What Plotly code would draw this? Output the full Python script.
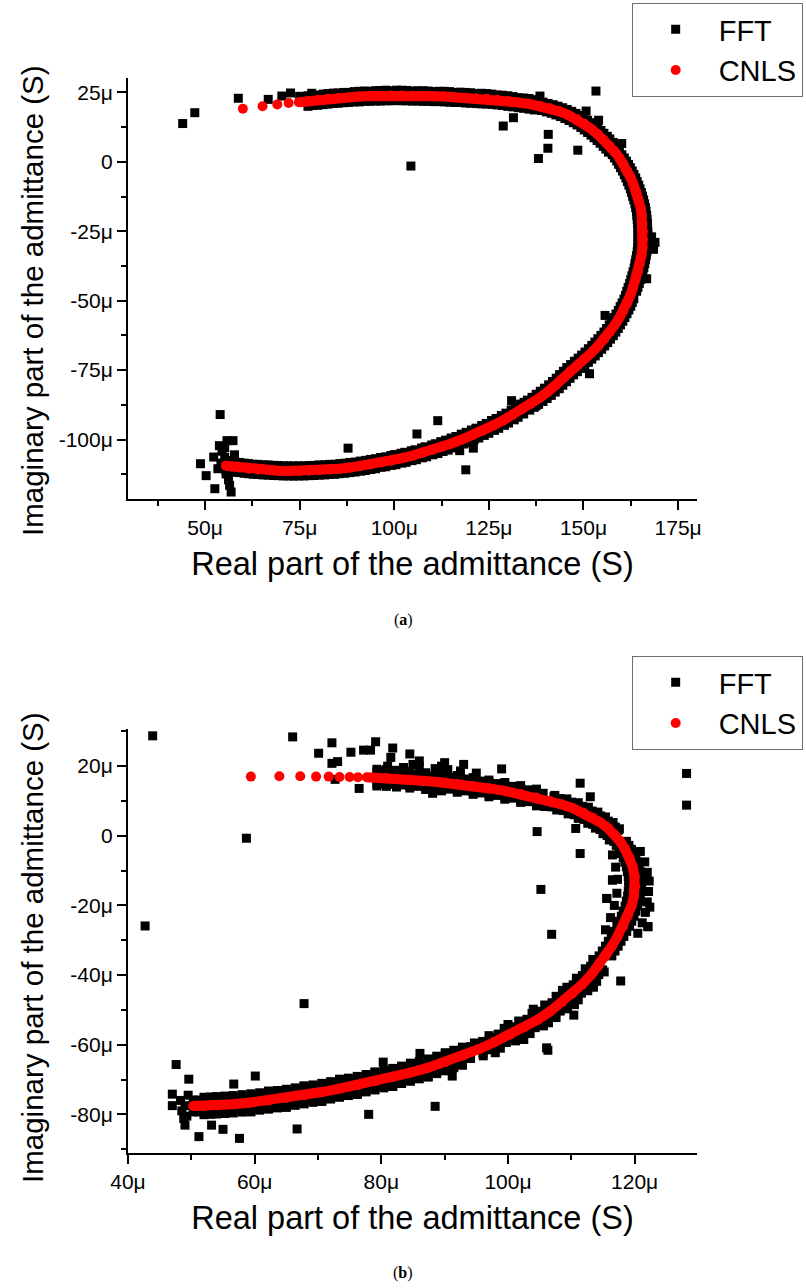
import plotly.graph_objects as go

# ---------------- Panel (a) data (values in micro-siemens) ----------------
cnls_a = [
    (60.0, 19.1), (65.2, 20.0), (69.1, 20.7), (72.1, 21.2), (74.8, 21.5),
    (77.2, 21.9), (79.8, 22.3), (82.5, 22.7), (85.2, 23.0), (88.0, 23.3), (90.8, 23.5),
    (93.6, 23.7), (96.4, 23.8), (99.2, 23.9), (102.0, 23.9), (104.8, 23.8), (107.6, 23.7),
    (110.4, 23.6), (113.2, 23.5), (116.0, 23.3), (118.8, 23.1), (121.6, 22.9), (124.4, 22.7),
    (127.2, 22.4), (130.0, 21.9), (132.8, 21.4), (135.6, 20.9), (138.4, 20.2), (141.1, 19.3),
    (143.6, 18.2), (146.0, 16.9), (148.2, 15.4), (150.2, 13.7), (152.0, 11.9), (153.7, 10.0),
    (155.3, 8.0), (156.8, 5.9), (158.2, 3.7), (159.5, 1.4), (160.6, -0.9), (161.6, -3.3),
    (162.5, -5.8), (163.3, -8.4), (164.0, -11.0), (164.6, -13.7), (165.1, -16.5), (165.4, -19.3),
    (165.6, -22.2), (165.7, -25.1), (165.7, -28.0), (165.6, -30.9), (165.3, -33.8), (164.9, -36.7),
    (164.4, -39.6), (163.8, -42.4), (163.1, -45.2), (162.4, -48.0), (161.6, -50.7), (160.6, -53.4),
    (159.5, -56.1), (158.3, -58.7), (157.0, -61.3), (155.5, -63.8), (153.9, -66.2), (152.2, -68.6),
    (150.4, -70.9), (148.5, -73.1), (146.5, -75.4), (144.6, -77.9), (142.7, -80.4), (140.6, -82.8),
    (138.4, -85.0), (136.1, -87.1), (133.7, -89.1), (131.2, -91.2), (128.6, -93.2), (126.0, -95.0),
    (123.4, -96.8), (120.7, -98.4), (118.0, -99.9), (115.3, -101.3), (112.6, -102.6), (109.9, -103.8),
    (107.2, -104.9), (104.5, -105.9), (101.8, -106.8), (99.1, -107.6), (96.4, -108.3), (93.7, -109.0),
    (91.0, -109.6), (88.3, -110.1), (85.6, -110.5), (82.9, -110.8), (80.2, -111.0), (77.5, -111.2),
    (74.8, -111.3), (72.1, -111.3), (69.4, -111.2), (66.7, -111.0), (64.0, -110.8), (61.5, -110.5),
    (59.2, -110.1), (57.2, -109.8), (55.5, -109.4),
]
cnls_a_sparse = 5  # first low-frequency points are well separated

fft_a = [
    # along the arc, outer side
    (77.2, 23.8), (79.8, 24.0), (82.5, 24.6), (85.2, 24.8), (88.0, 25.0), (90.8, 25.4), (93.6, 25.4),
    (96.4, 25.7), (99.2, 25.6), (102.0, 25.8), (104.8, 25.5), (107.6, 25.6), (110.4, 25.3), (113.2, 25.4),
    (116.0, 25.0), (118.8, 25.0), (121.6, 24.6), (124.4, 24.6), (127.2, 24.1), (130.0, 23.8), (132.8, 23.1),
    (135.6, 22.8), (139.3, 21.5), (142.0, 20.6), (144.5, 19.5), (146.9, 18.2), (149.1, 16.7), (151.1, 15.0),
    (152.9, 13.2), (154.6, 11.3), (156.3, 9.2), (157.8, 7.0), (159.5, 3.7), (160.8, 1.4), (161.9, -0.9),
    (162.9, -3.3), (163.8, -5.8), (164.6, -8.4), (165.3, -11.0), (165.9, -13.7), (166.4, -16.5),
    (166.7, -19.3), (166.9, -22.2), (167.0, -25.1), (167.0, -28.0), (166.9, -30.9), (166.6, -33.8),
    (166.2, -36.7), (165.7, -39.6), (165.1, -42.4), (164.4, -45.2), (163.3, -49.3), (162.5, -52.0),
    (161.5, -54.7), (160.4, -57.4), (159.2, -60.0), (157.9, -62.6), (156.4, -65.1), (154.8, -67.5),
    (153.1, -69.9), (151.3, -72.2), (149.4, -74.4), (147.4, -76.7), (145.5, -79.2), (143.6, -81.7),
    (141.5, -84.1), (139.3, -86.3), (137.0, -88.4), (134.2, -90.8), (131.7, -92.9), (129.1, -94.9),
    (126.5, -96.7), (123.8, -98.5), (121.1, -100.1), (118.4, -101.6), (115.6, -103.0), (112.9, -104.3),
    (110.2, -105.5), (107.4, -106.6), (104.7, -107.6), (102.0, -108.5), (99.3, -109.3), (96.5, -110.0),
    (93.8, -110.8), (91.1, -111.4), (88.3, -111.9), (85.6, -112.3), (82.9, -112.6), (80.2, -112.8),
    (77.5, -113.0), (74.8, -113.1), (72.1, -113.1), (69.4, -113.0), (66.7, -112.8), (64.0, -112.6),
    (61.5, -112.3), (59.2, -111.9), (57.2, -111.6), (55.5, -111.2),
    (78.5, 24.0), (81.2, 24.4), (83.9, 24.7), (86.6, 25.0), (89.4, 25.3), (92.2, 25.5), (95.0, 25.6),
    (97.8, 25.8), (100.6, 25.8), (103.4, 25.7), (106.2, 25.6), (109.0, 25.5), (111.8, 25.4), (114.6, 25.3),
    (117.4, 25.1), (120.2, 24.9), (123.0, 24.7), (125.8, 24.4), (128.6, 24.0), (131.4, 23.5), (134.2, 23.0),
    (137.2, 22.4), (140.65, 21.05), (143.25, 20.05), (145.7, 18.85), (148.0, 17.45), (150.1, 15.85),
    (152.0, 14.1), (153.75, 12.25), (155.4, 10.3), (156.95, 8.25), (158.6, 5.6),
    (160.15, 2.55), (161.35, 0.25), (162.4, -2.1), (163.35, -4.55), (164.2, -7.1), (164.95, -9.7),
    (165.6, -12.35), (166.15, -15.1), (166.55, -17.9), (166.8, -20.75), (166.95, -23.65), (167.0, -26.55),
    (166.95, -29.45), (166.75, -32.35), (166.4, -35.25), (165.95, -38.15), (165.4, -41.0), (164.75, -43.8),
    (164.05, -46.6), (162.9, -50.65), (162.0, -53.35), (160.95, -56.05), (159.8, -58.7), (158.55, -61.3),
    (157.15, -63.85), (155.6, -66.3), (153.95, -68.7), (152.2, -71.05), (150.35, -73.3), (148.4, -75.55),
    (146.45, -77.95), (144.55, -80.45), (142.55, -82.9), (140.4, -85.2), (138.15, -87.35), (135.8, -89.4),
    (132.75, -92.0), (130.2, -94.05), (127.6, -95.95), (125.0, -97.75), (122.35, -99.45), (119.65, -101.0),
    (116.95, -102.45), (114.25, -103.8), (111.55, -105.05), (108.55, -106.2), (105.85, -107.25),
    (103.15, -108.2), (100.45, -109.05), (97.75, -109.8), (95.05, -110.5), (92.35, -111.15),
    (89.65, -111.7), (86.95, -112.15), (84.25, -112.5), (81.55, -112.75), (78.85, -112.95),
    (76.15, -113.1), (73.45, -113.15), (70.75, -113.1), (68.05, -112.95), (65.35, -112.75),
    (62.75, -112.5), (60.35, -112.15), (58.2, -111.8), (56.35, -111.45),
    # along the arc, inner side
    (78.5, 20.3), (81.2, 20.6), (83.9, 21.0), (86.6, 21.3), (89.4, 21.6), (92.2, 21.8), (95.0, 21.9),
    (97.8, 22.0), (100.6, 22.1), (103.4, 22.0), (106.2, 21.9), (109.0, 21.8), (111.8, 21.7), (114.6, 21.5),
    (117.4, 21.4), (120.2, 21.1), (123.0, 20.9), (125.8, 20.7), (128.6, 20.3), (131.4, 19.8), (134.2, 19.3),
    (137.0, 18.7), (138.9, 18.5), (141.5, 17.5), (143.9, 16.3), (146.2, 14.9), (148.3, 13.3), (150.2, 11.5),
    (152.0, 9.6), (153.6, 7.7), (155.2, 5.6), (156.6, 3.5), (157.6, 2.6), (158.8, 0.3), (159.8, -2.1),
    (160.8, -4.6), (161.6, -7.1), (162.4, -9.7), (163.0, -12.4), (163.6, -15.1), (164.0, -17.9),
    (164.2, -20.8), (164.4, -23.7), (164.4, -26.6), (164.4, -29.5), (164.2, -32.4), (163.8, -35.3),
    (163.4, -38.2), (162.8, -41.0), (162.2, -43.8), (161.5, -46.6), (161.1, -48.1), (160.2, -50.8),
    (159.2, -53.5), (158.0, -56.1), (156.8, -58.7), (155.4, -61.3), (153.8, -63.7), (152.2, -66.1),
    (150.4, -68.5), (148.6, -70.7), (146.6, -73.0), (144.7, -75.4), (142.8, -77.9), (140.8, -80.3),
    (138.6, -82.6), (136.4, -84.8), (134.3, -86.6), (132.0, -88.4), (129.5, -90.5), (126.9, -92.4),
    (124.3, -94.2), (121.6, -95.9), (119.0, -97.4), (116.3, -98.9), (113.6, -100.2), (110.9, -101.5),
    (108.2, -102.6), (105.5, -103.7), (102.8, -104.6), (100.1, -105.4), (97.8, -106.2), (95.1, -106.9),
    (92.4, -107.5), (89.7, -108.1), (87.0, -108.5), (84.3, -108.9), (81.6, -109.1), (78.9, -109.3),
    (76.2, -109.5), (73.5, -109.5), (70.8, -109.5), (68.1, -109.3), (65.4, -109.1), (62.8, -108.9),
    (60.4, -108.5), (58.2, -108.2), (56.4, -107.8),
    (77.2, 20.0), (79.8, 20.4), (82.5, 20.8), (85.2, 21.1), (88.0, 21.4), (90.8, 21.6), (93.6, 21.8),
    (96.4, 21.9), (99.2, 22.0), (102.0, 22.0), (104.8, 21.9), (107.6, 21.8), (110.4, 21.7), (113.2, 21.6),
    (116.0, 21.4), (118.8, 21.2), (121.6, 21.0), (124.4, 20.8), (127.2, 20.5), (130.0, 20.0), (132.8, 19.5),
    (135.6, 19.0), (137.5, 18.9), (140.2, 18.0), (142.7, 16.9), (145.1, 15.6), (147.3, 14.1), (149.3, 12.4),
    (151.1, 10.6), (152.8, 8.7), (154.4, 6.7), (155.9, 4.6),
    (156.9, 3.7), (158.2, 1.4), (159.3, -0.9), (160.3, -3.3), (161.2, -5.8), (162.0, -8.4), (162.7, -11.0),
    (163.3, -13.7), (163.8, -16.5), (164.1, -19.3), (164.3, -22.2), (164.4, -25.1), (164.4, -28.0),
    (164.3, -30.9), (164.0, -33.8), (163.6, -36.7), (163.1, -39.6), (162.5, -42.4), (161.8, -45.2),
    (161.5, -46.7), (160.7, -49.4), (159.7, -52.1), (158.6, -54.8), (157.4, -57.4), (156.1, -60.0),
    (154.6, -62.5), (153.0, -64.9), (151.3, -67.3), (149.5, -69.6), (147.6, -71.8), (145.6, -74.1),
    (143.7, -76.6), (141.8, -79.1), (139.7, -81.5), (137.5, -83.7), (135.2, -85.8),
    (133.4, -87.25), (130.9, -89.35), (128.3, -91.35), (125.7, -93.15), (123.1, -94.95), (120.4, -96.55),
    (117.7, -98.05), (115.0, -99.45), (112.3, -100.75), (109.9, -101.95), (107.2, -103.05),
    (104.5, -104.05), (101.8, -104.95), (99.1, -105.75), (96.4, -106.45), (93.7, -107.15),
    (91.0, -107.75), (88.3, -108.25), (85.6, -108.65), (82.9, -108.95), (80.2, -109.15),
    (77.5, -109.35), (74.8, -109.45), (72.1, -109.45), (69.4, -109.35), (66.7, -109.15),
    (64.0, -108.95), (61.5, -108.65), (59.2, -108.25), (57.2, -107.95), (55.5, -107.55),
    # scattered points
    (44.1, 13.8), (47.3, 17.7), (58.8, 22.9), (66.7, 22.5), (70.3, 23.7), (72.6, 24.8), (75.0, 23.6),
    (78.2, 24.7), (83.9, 24.7), (95.8, 25.5), (98.4, 22.2), (104.4, -1.5), (153.3, 25.5), (138.5, 23.7),
    (128.8, 12.9), (131.5, 15.9), (140.7, 9.9), (140.6, 4.9), (138.1, 1.2), (148.5, 4.2), (150.7, 18.3),
    (154.0, 15.0), (160.1, 6.6), (168.9, -29.0), (168.5, -31.5), (168.0, -27.0), (166.7, -42.1),
    (155.7, -55.3), (151.6, -76.3), (54.0, -91.0), (48.8, -108.7), (50.3, -113.0), (52.6, -117.7),
    (56.9, -118.9), (56.5, -116.5), (53.8, -102.2), (55.8, -100.4), (57.4, -100.4), (52.3, -106.3),
    (54.5, -104.2), (55.2, -106.5), (54.2, -108.5), (55.6, -112.4), (56.2, -114.5), (55.2, -103.0),
    (53.4, -110.5), (57.8, -105.5), (87.8, -103.1), (106.0, -98.0), (111.5, -93.2), (117.3, -104.0),
    (118.9, -110.9), (120.9, -103.1), (131.0, -86.0), (137.5, -87.8),
]

# ---------------- Panel (b) data (values in micro-siemens) ----------------
cnls_b = [
    (59.4, 17.0), (63.9, 17.1), (67.2, 17.1), (69.7, 17.0), (71.7, 17.0), (73.4, 16.9), (75.0, 16.9),
    (76.3, 16.8), (77.7, 16.8),
    (79.3, 16.7), (80.8, 16.6), (82.4, 16.4), (84.5, 16.1), (87.0, 15.7), (89.5, 15.3), (92.0, 14.9),
    (94.5, 14.3), (97.0, 13.6), (99.5, 12.9), (102.0, 12.0), (104.5, 11.0), (106.6, 10.0), (108.5, 9.0),
    (110.3, 7.9), (111.9, 6.6), (113.4, 5.2), (114.6, 3.8), (115.8, 2.2), (116.8, 0.4), (117.7, -1.6),
    (118.5, -3.9), (119.2, -6.3), (119.7, -8.9), (120.0, -11.7), (120.1, -14.5), (119.9, -17.3),
    (119.5, -20.2), (118.9, -23.1), (118.2, -26.0), (117.3, -28.9), (116.4, -31.7), (115.4, -34.5),
    (114.3, -37.3), (113.1, -40.0), (111.7, -42.7), (110.2, -45.3), (108.5, -47.9), (106.7, -50.4),
    (104.7, -52.8), (102.6, -55.0), (100.3, -57.1), (97.9, -59.2), (95.4, -61.3), (92.8, -63.2),
    (90.1, -65.0), (87.4, -66.6), (84.6, -68.0), (81.8, -69.3), (79.0, -70.5), (76.2, -71.6),
    (73.4, -72.6), (70.6, -73.6), (67.8, -74.5), (65.0, -75.3), (62.2, -76.0), (59.4, -76.6),
    (56.6, -77.1), (54.0, -77.4), (52.0, -77.6), (50.3, -77.6),
]
cnls_b_sparse = 9

fft_b = [
    # upper branch, outer
    (79.3, 18.4), (80.05, 18.3), (80.8, 18.3), (81.6, 18.2), (82.4, 18.1), (83.45, 18.0), (84.5, 17.8),
    (85.75, 17.6), (87.0, 17.4), (88.25, 17.2), (89.5, 17.0), (90.75, 16.8), (92.0, 16.6), (93.25, 16.3),
    (94.5, 16.0), (95.75, 15.7), (97.0, 15.3), (98.25, 15.0), (99.5, 14.6), (100.75, 14.2), (102.0, 13.7),
    (103.25, 13.2), (104.5, 12.7), (105.55, 12.2),
    (79.3, 19.1), (80.8, 19.0), (82.4, 18.8), (84.5, 18.5), (87.0, 18.1), (89.5, 17.7), (92.0, 17.3),
    (94.5, 16.7), (97.0, 16.0), (99.5, 15.3), (102.0, 14.4), (104.5, 13.4),
    (81.0, 20.0), (83.5, 19.6), (86.0, 19.9), (88.5, 19.3), (90.5, 19.0), (92.5, 18.6), (95.0, 18.0),
    (85.0, 20.5), (89.5, 20.0),
    # upper branch, inner
    (79.3, 15.0), (80.05, 14.9), (80.8, 14.9), (81.6, 14.8), (82.4, 14.7), (83.45, 14.6), (84.5, 14.4),
    (85.75, 14.2), (87.0, 14.0), (88.25, 13.8), (89.5, 13.6), (90.75, 13.4), (92.0, 13.2), (93.25, 12.9),
    (94.5, 12.6), (95.75, 12.3), (97.0, 11.9), (98.25, 11.6), (99.5, 11.2), (100.75, 10.8), (102.0, 10.3),
    (103.25, 9.8), (104.5, 9.3), (105.55, 8.8),
    (79.3, 14.3), (80.8, 14.2), (82.4, 14.0), (84.5, 13.7), (87.0, 13.3), (89.5, 12.9), (92.0, 12.5),
    (94.5, 11.9), (97.0, 11.2), (99.5, 10.5), (102.0, 9.6), (104.5, 8.6),
    # upper bend
    (107.25, 11.2), (108.2, 10.7), (109.15, 10.2), (110.05, 9.65), (110.95, 9.1), (111.75, 8.45),
    (112.55, 7.8), (113.3, 7.1), (114.05, 6.4), (114.65, 5.7), (115.25, 5.0), (115.85, 4.2),
    (116.45, 3.4), (116.95, 2.5), (117.45, 1.6),
    (107.4, 11.6), (109.3, 10.6), (111.1, 9.5), (112.7, 8.2), (114.2, 6.8), (115.4, 5.4), (116.6, 3.8),
    (117.6, 2.0),
    (105.95, 8.8), (106.9, 8.3), (107.85, 7.8), (108.75, 7.25), (109.65, 6.7), (110.45, 6.05),
    (111.25, 5.4), (112.0, 4.7), (112.75, 4.0), (113.35, 3.3), (113.95, 2.6), (114.55, 1.8),
    (115.15, 1.0), (115.65, 0.1), (116.15, -0.8),
    (105.8, 8.4), (107.7, 7.4), (109.5, 6.3), (111.1, 5.0), (112.6, 3.6), (113.8, 2.2), (115.0, 0.6),
    (116.0, -1.2),
    # right side
    (118.7, -1.6), (119.1, -2.75), (119.5, -3.9), (119.85, -5.1), (120.2, -6.3), (120.45, -7.6),
    (120.7, -8.9), (120.85, -10.3), (121.0, -11.7), (121.05, -13.1), (121.1, -14.5), (121.0, -15.9),
    (120.9, -17.3), (120.7, -18.75), (120.5, -20.2), (120.2, -21.65), (119.9, -23.1), (119.55, -24.55),
    (119.2, -26.0), (118.75, -27.45), (118.3, -28.9), (117.85, -30.3), (117.4, -31.7), (116.9, -33.1),
    (116.4, -34.5),
    (116.7, -1.6), (117.1, -2.75), (117.5, -3.9), (117.85, -5.1), (118.2, -6.3), (118.45, -7.6),
    (118.7, -8.9), (118.85, -10.3), (119.0, -11.7), (119.05, -13.1), (119.1, -14.5), (119.0, -15.9),
    (118.9, -17.3), (118.7, -18.75), (118.5, -20.2), (118.2, -21.65), (117.9, -23.1), (117.55, -24.55),
    (117.2, -26.0), (116.75, -27.45), (116.3, -28.9), (115.85, -30.3), (115.4, -31.7), (114.9, -33.1),
    (114.4, -34.5),
    (120.9, -4.5), (121.6, -7.5), (122.0, -10.5), (122.3, -13.0), (122.2, -16.0), (122.0, -19.0),
    (121.7, -22.0), (121.2, -25.0), (122.1, -26.1), (120.5, -28.0), (121.8, -11.8), (122.4, -20.5),
    (116.5, -5.5), (117.0, -9.0), (117.3, -12.5), (117.2, -16.5), (116.8, -20.0), (116.2, -23.5),
    (115.4, -27.0), (115.6, -18.0), (116.5, -12.7),
    # lower bend
    (114.95, -38.5), (114.35, -39.85), (113.75, -41.2), (113.05, -42.55), (112.35, -43.9), (111.6, -45.2),
    (110.85, -46.5), (110.0, -47.8), (109.15, -49.1), (108.25, -50.35), (107.35, -51.6), (106.35, -52.8),
    (105.35, -54.0), (104.3, -55.1), (103.25, -56.2), (102.1, -57.25), (100.95, -58.3), (99.75, -59.35),
    (98.55, -60.4), (97.3, -61.45), (96.05, -62.5),
    (115.2, -39.1), (114.0, -41.8), (112.6, -44.5), (111.1, -47.1), (109.4, -49.7), (107.6, -52.2),
    (105.6, -54.6), (103.5, -56.8), (101.2, -58.9), (98.8, -61.0), (96.1, -63.2),
    (113.65, -36.1), (113.05, -37.45), (112.45, -38.8), (111.75, -40.15), (111.05, -41.5), (110.3, -42.8),
    (109.55, -44.1), (108.7, -45.4), (107.85, -46.7), (106.95, -47.95), (106.05, -49.2), (105.05, -50.4),
    (104.05, -51.6), (103.0, -52.7), (101.95, -53.8), (100.8, -54.85), (99.65, -55.9), (98.45, -56.95),
    (97.25, -58.0), (96.0, -59.05), (94.75, -60.1),
    (113.4, -35.5), (112.2, -38.2), (110.8, -40.9), (109.3, -43.5), (107.6, -46.1), (105.8, -48.6),
    (103.8, -51.0), (101.7, -53.2), (99.4, -55.3), (97.0, -57.4), (94.7, -59.5),
    (106.4, -53.7), (102.5, -58.5), (98.0, -62.3), (110.5, -48.5), (113.5, -43.5),
    (104.0, -49.8), (100.0, -54.2), (108.6, -44.4),
    # lower branch, outer
    (94.1, -63.95), (92.8, -64.9), (91.45, -65.8), (90.1, -66.7), (88.75, -67.5), (87.4, -68.3),
    (86.0, -69.0), (84.6, -69.7), (83.2, -70.35), (81.8, -71.0), (80.4, -71.6), (79.0, -72.2),
    (77.6, -72.75), (76.2, -73.3), (74.8, -73.8), (73.4, -74.3), (72.0, -74.8), (70.6, -75.3),
    (69.2, -75.75), (67.8, -76.2), (66.4, -76.6), (65.0, -77.0), (63.6, -77.35), (62.2, -77.7),
    (60.8, -78.0), (59.4, -78.3), (58.0, -78.55), (56.6, -78.8), (55.3, -78.95), (54.0, -79.1),
    (53.0, -79.2), (52.0, -79.3), (51.1, -79.3), (50.3, -79.3),
    (92.8, -65.7), (90.1, -67.5), (87.4, -69.1), (84.6, -70.5), (81.8, -71.8), (79.0, -73.0),
    (76.2, -74.1), (73.4, -75.1), (70.6, -76.1), (67.8, -77.0), (65.0, -77.8), (62.2, -78.5),
    (59.4, -79.1), (56.6, -79.6), (54.0, -79.9), (52.0, -80.1),
    (91.45, -66.6), (88.75, -68.3), (86.0, -69.8), (83.2, -71.15), (80.4, -72.4), (77.6, -73.55),
    (74.8, -74.6), (72.0, -75.6), (69.2, -76.55), (66.4, -77.4), (63.6, -78.15), (60.8, -78.8),
    (58.0, -79.35), (55.3, -79.75), (53.0, -80.0),
    (92.8, -65.9), (87.4, -69.3), (81.8, -72.0), (76.2, -74.3), (70.6, -76.3), (65.0, -78.0), (59.4, -79.3),
    # lower branch, inner
    (94.1, -60.55), (92.8, -61.5), (91.45, -62.4), (90.1, -63.3), (88.75, -64.1), (87.4, -64.9),
    (86.0, -65.6), (84.6, -66.3), (83.2, -66.95), (81.8, -67.6), (80.4, -68.2), (79.0, -68.8),
    (77.6, -69.35), (76.2, -69.9), (74.8, -70.4), (73.4, -70.9), (72.0, -71.4), (70.6, -71.9),
    (69.2, -72.35), (67.8, -72.8), (66.4, -73.2), (65.0, -73.6), (63.6, -73.95), (62.2, -74.3),
    (60.8, -74.6), (59.4, -74.9), (58.0, -75.15), (56.6, -75.4), (55.3, -75.55), (54.0, -75.7),
    (53.0, -75.8), (52.0, -75.9), (51.1, -75.9), (50.3, -75.9),
    (92.8, -60.7), (90.1, -62.5), (87.4, -64.1), (84.6, -65.5), (81.8, -66.8), (79.0, -68.0),
    (76.2, -69.1), (73.4, -70.1), (70.6, -71.1), (67.8, -72.0), (65.0, -72.8), (62.2, -73.5),
    (59.4, -74.1), (56.6, -74.6), (54.0, -74.9), (52.0, -75.1),
    (91.45, -61.6), (88.75, -63.3), (86.0, -64.8), (83.2, -66.15), (80.4, -67.4), (77.6, -68.55),
    (74.8, -69.6), (72.0, -70.6), (69.2, -71.55), (66.4, -72.4), (63.6, -73.15), (60.8, -73.8),
    (58.0, -74.35), (55.3, -74.75), (53.0, -75.0),
    (90.1, -62.3), (84.6, -65.3), (79.0, -67.8), (73.4, -69.9), (67.8, -71.8), (62.2, -73.3),
    (49.0, -77.5), (48.5, -79.0), (49.3, -80.5), (48.3, -76.0), (49.5, -74.5),
    # scattered points
    (43.9, 28.7), (58.7, -0.7), (42.7, -25.9), (66.0, 28.4), (70.1, 23.7), (72.2, 26.7), (72.2, 20.8),
    (73.1, 21.3), (75.2, 24.0), (77.2, 24.6), (78.3, 24.6), (79.1, 27.0), (81.5, 22.5), (80.2, 18.7),
    (76.5, 13.6), (72.7, 16.2), (67.8, -48.2), (128.2, 17.9), (128.2, 8.8), (111.4, 15.1), (113.0, 11.2),
    (88.1, 12.2), (104.6, 1.2), (110.7, 2.1), (111.4, -5.1), (105.2, -15.4), (106.9, -28.3), (115.6, -18.0),
    (116.5, -12.7), (122.1, -26.1), (117.8, -41.7), (106.3, -61.6), (88.5, -77.7), (110.4, -51.5),
    (86.1, -62.5), (47.6, -65.7), (49.6, -69.9), (47.0, -74.2), (47.0, -77.5), (48.8, -81.2),
    (49.0, -83.1), (51.2, -86.4), (53.2, -83.1), (55.0, -84.3), (57.6, -86.9), (56.7, -71.3),
    (60.1, -69.0), (66.7, -84.2), (78.0, -80.0), (80.3, -65.0), (91.2, -69.0), (106.1, -60.9),
    (84.5, 23.5), (86.0, 21.5), (90.0, 21.0), (93.0, 20.5), (99.0, 19.2), (81.8, 25.2),
]

# ---------------- Axis ticks ----------------
xa_ticks = [50, 75, 100, 125, 150, 175]
xa_labels = ["50μ", "75μ", "100μ", "125μ", "150μ", "175μ"]
xa_minor = [37.5, 62.5, 87.5, 112.5, 137.5, 162.5]
ya_ticks = [25, 0, -25, -50, -75, -100]
ya_labels = ["25μ", "0", "-25μ", "-50μ", "-75μ", "-100μ"]
ya_minor = [12.5, -12.5, -37.5, -62.5, -87.5, -112.5]

xb_ticks = [40, 60, 80, 100, 120]
xb_labels = ["40μ", "60μ", "80μ", "100μ", "120μ"]
xb_minor = [50, 70, 90, 110]
yb_ticks = [20, 0, -20, -40, -60, -80]
yb_labels = ["20μ", "0", "-20μ", "-40μ", "-60μ", "-80μ"]
yb_minor = [30, 10, -10, -30, -50, -70, -90]

x_title = "Real part of the admittance (S)"
y_title = "Imaginary part of the admittance (S)"

FONT = "Liberation Sans, Arial, sans-serif"
SERIF = "Liberation Serif, DejaVu Serif, serif"


def col(pts, i):
    return [p[i] for p in pts]


fig = go.Figure()

for (fft, cnls, nsparse, xa, ya, leg) in [
    (fft_a, cnls_a, cnls_a_sparse, "x", "y", "legend"),
    (fft_b, cnls_b, cnls_b_sparse, "x2", "y2", "legend2"),
]:
    fig.add_trace(go.Scatter(
        x=col(fft, 0), y=col(fft, 1), mode="markers", name="FFT",
        marker=dict(symbol="square", size=9, color="black"),
        xaxis=xa, yaxis=ya, legend=leg,
    ))
    dense = cnls[nsparse - 1:]
    fig.add_trace(go.Scatter(
        x=col(dense, 0), y=col(dense, 1), mode="lines", showlegend=False,
        line=dict(color="#ff0000", width=10), hoverinfo="skip",
        xaxis=xa, yaxis=ya,
    ))
    fig.add_trace(go.Scatter(
        x=col(cnls, 0), y=col(cnls, 1), mode="markers", name="CNLS",
        marker=dict(symbol="circle", size=10, color="#ff0000"),
        xaxis=xa, yaxis=ya, legend=leg,
    ))


def axis_common():
    return dict(
        showline=True, linewidth=2, linecolor="black", mirror=False,
        showgrid=False, zeroline=False,
        ticks="outside", ticklen=9, tickwidth=1.5, tickcolor="black",
        tickfont=dict(family=FONT, size=21, color="black"),
        tickmode="array",
    )


def minor(vals):
    return dict(tickvals=vals, ticks="outside", ticklen=5, tickwidth=1.5,
                tickcolor="black", showgrid=False)


def paper_y(px):
    return (1153 - px) / 1075


fig.update_layout(
    width=806, height=1288,
    paper_bgcolor="white", plot_bgcolor="white",
    margin=dict(l=128, r=109, t=78, b=135, autoexpand=False),
    font=dict(family=FONT, color="black"),
    xaxis=dict(**axis_common(), domain=[0, 1], anchor="y", range=[29.65, 180.0],
               tickvals=xa_ticks, ticktext=xa_labels, minor=minor(xa_minor),
               title=dict(text=x_title, font=dict(family=FONT, size=32.5), standoff=14)),
    yaxis=dict(**axis_common(), domain=[0.6084, 1.0], anchor="x", range=[-121.4, 30.2],
               tickvals=ya_ticks, ticktext=ya_labels, minor=minor(ya_minor)),
    xaxis2=dict(**axis_common(), domain=[0, 1], anchor="y2", range=[40, 129.85],
                tickvals=xb_ticks, ticktext=xb_labels, minor=minor(xb_minor),
                title=dict(text=x_title, font=dict(family=FONT, size=32.5), standoff=14)),
    yaxis2=dict(**axis_common(), domain=[0.0, 0.3944], anchor="x2", range=[-91.1, 30.66],
                tickvals=yb_ticks, ticktext=yb_labels, minor=minor(yb_minor)),
    legend=dict(x=0.8852, y=paper_y(3), xanchor="left", yanchor="top",
                bordercolor="#6e6e6e", borderwidth=1, bgcolor="white",
                font=dict(family=FONT, size=29, color="black"), itemwidth=76),
    legend2=dict(x=0.8852, y=paper_y(656), xanchor="left", yanchor="top",
                 bordercolor="#6e6e6e", borderwidth=1, bgcolor="white",
                 font=dict(family=FONT, size=29, color="black"), itemwidth=76),
    annotations=[
        dict(text=y_title, textangle=-90, xref="paper", yref="paper",
             x=(32 - 128) / 569, y=paper_y(301), xanchor="center", yanchor="middle",
             showarrow=False, font=dict(family=FONT, size=29.5)),
        dict(text=y_title, textangle=-90, xref="paper", yref="paper",
             x=(32 - 128) / 569, y=paper_y(948), xanchor="center", yanchor="middle",
             showarrow=False, font=dict(family=FONT, size=29.5)),
        dict(text="(<b>a</b>)", xref="paper", yref="paper", x=(403 - 128) / 569, y=paper_y(620),
             xanchor="center", yanchor="middle", showarrow=False, font=dict(family=SERIF, size=16)),
        dict(text="(<b>b</b>)", xref="paper", yref="paper", x=(403 - 128) / 569, y=paper_y(1273),
             xanchor="center", yanchor="middle", showarrow=False, font=dict(family=SERIF, size=16)),
    ],
)

fig.write_html("out.html")
